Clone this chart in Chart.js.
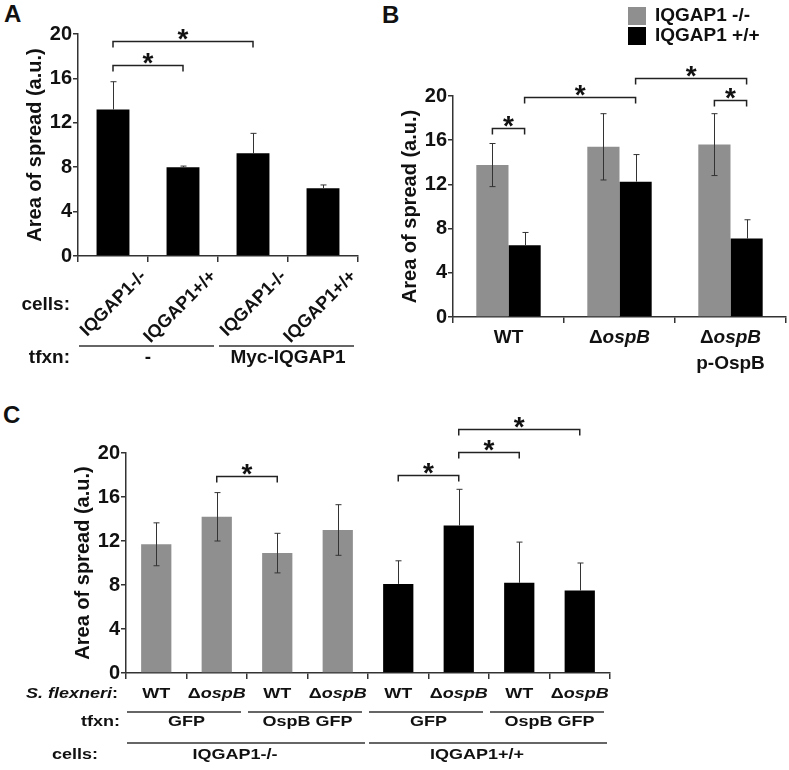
<!DOCTYPE html>
<html>
<head>
<meta charset="utf-8">
<script src="https://cdn.jsdelivr.net/npm/chart.js@4.4.0/dist/chart.umd.min.js"></script>
<style>
body { margin: 0; background: #fff; }
#page { position: relative; width: 789px; height: 770px; overflow: hidden; }
canvas { position: absolute; }
.panel { position: absolute; font: bold 24px 'Liberation Sans', Arial, sans-serif; color: #111; }
</style>
</head>
<body>
<div id="page">
  <div class="panel" style="left:4px;top:0px">A</div>
  <div class="panel" style="left:382px;top:1px">B</div>
  <div class="panel" style="left:3px;top:401px">C</div>
  <canvas id="chartA" width="380" height="390" style="left:0;top:0"></canvas>
  <canvas id="chartB" width="409" height="390" style="left:380px;top:0"></canvas>
  <canvas id="chartC" width="789" height="370" style="left:0;top:400px"></canvas>
</div>
<script>
const fontFamily = "'Liberation Sans', Arial, sans-serif";
const axisColor = '#333';
const textColor = '#111';
const grayColor = '#8f8f8f';
const blackColor = '#000';
const yTitle = 'Area of spread (a.u.)';

// Panel A
const aCells = ['IQGAP1-/-', 'IQGAP1+/+', 'IQGAP1-/-', 'IQGAP1+/+'];
const aTfxn = ['-', 'Myc-IQGAP1'];
const aMeans = [13.2, 8.0, 9.25, 6.1];
const aErrors = [2.5, 0.1, 1.8, 0.3];
const aBrackets = [[0, 1, 17.2], [0, 2, 19.35]];

// Panel B
const bStrains = ['WT', 'ΔospB', 'ΔospB|p-OspB'];
const bSeries = ['IQGAP1 -/-', 'IQGAP1 +/+'];
const bKnockout = [13.75, 15.4, 15.6];
const bKnockoutErr = [1.95, 3.0, 2.8];
const bWild = [6.5, 12.25, 7.1];
const bWildErr = [1.15, 2.45, 1.7];
// [dataset, index] -> [dataset, index], bracket height
const bBrackets = [[0, 0, 1, 0, 17.1], [1, 0, 1, 1, 19.9], [1, 1, 1, 2, 21.6], [0, 2, 1, 2, 19.6]];

// Panel C
const cStrain = ['WT', 'ΔospB', 'WT', 'ΔospB', 'WT', 'ΔospB', 'WT', 'ΔospB'];
const cTfxn = ['GFP', 'OspB GFP', 'GFP', 'OspB GFP'];
const cCells = ['IQGAP1-/-', 'IQGAP1+/+'];
const cMeans = [11.7, 14.2, 10.9, 13.0, 8.1, 13.4, 8.2, 7.5];
const cErrors = [1.95, 2.2, 1.8, 2.3, 2.1, 3.3, 3.7, 2.5];
const cBrackets = [[1, 2, 17.9], [4, 5, 18.0], [5, 6, 20.1], [5, 7, 22.2]];

function fontStr(size, italic) {
    return (italic ? 'italic ' : '') + 'bold ' + size + 'px ' + fontFamily;
}

function parseLabel(s) {
    if (s.startsWith('Δ')) return [['Δ', false], [s.slice(1), true]];
    if (s === 'S. flexneri:') return [['S. flexneri', true], [':', false]];
    return [[s, false]];
}

// draws text made of normal / italic parts, squashed vertically by sy
function drawText(ctx, s, x, y, size, align, sy) {
    const parts = parseLabel(s);
    ctx.save();
    ctx.translate(x, y);
    ctx.scale(1, sy || 1);
    let total = 0;
    const widths = parts.map(p => {
        ctx.font = fontStr(size, p[1]);
        const w = ctx.measureText(p[0]).width;
        total += w;
        return w;
    });
    let cx = align === 'center' ? -total / 2 : (align === 'right' ? -total : 0);
    ctx.textBaseline = 'middle';
    ctx.textAlign = 'left';
    ctx.fillStyle = textColor;
    parts.forEach((p, i) => {
        ctx.font = fontStr(size, p[1]);
        ctx.fillText(p[0], cx, 0);
        cx += widths[i];
    });
    ctx.restore();
}

function hLine(ctx, x0, x1, y) {
    ctx.save();
    ctx.strokeStyle = axisColor;
    ctx.lineWidth = 1.5;
    ctx.beginPath();
    ctx.moveTo(x0, y);
    ctx.lineTo(x1, y);
    ctx.stroke();
    ctx.restore();
}

function drawBracket(chart, a, b, level) {
    const ctx = chart.ctx;
    const y = Math.round(chart.scales.y.getPixelForValue(level)) + 0.5;
    const x0 = chart.getDatasetMeta(a[0]).data[a[1]].x;
    const x1 = chart.getDatasetMeta(b[0]).data[b[1]].x;
    ctx.save();
    ctx.strokeStyle = '#222';
    ctx.lineWidth = 1.5;
    ctx.beginPath();
    ctx.moveTo(x0, y + 6);
    ctx.lineTo(x0, y);
    ctx.lineTo(x1, y);
    ctx.lineTo(x1, y + 6);
    ctx.stroke();
    ctx.font = fontStr(28, false);
    ctx.fillStyle = textColor;
    ctx.textAlign = 'center';
    ctx.textBaseline = 'alphabetic';
    ctx.fillText('*', (x0 + x1) / 2, y - 10 + 0.59 * 28);
    ctx.restore();
}

// error bars: gray bars get both directions, black bars only upward
function drawErrors(chart, dsIndex, errors) {
    const ctx = chart.ctx;
    const ys = chart.scales.y;
    const ds = chart.data.datasets[dsIndex];
    chart.getDatasetMeta(dsIndex).data.forEach((el, i) => {
        const v = ds.data[i];
        const col = Array.isArray(ds.backgroundColor) ? ds.backgroundColor[i] : ds.backgroundColor;
        const top = ys.getPixelForValue(v + errors[i]);
        const bottom = col === grayColor ? ys.getPixelForValue(v - errors[i]) : ys.getPixelForValue(v);
        const x = Math.round(el.x) + 0.5;
        ctx.save();
        ctx.strokeStyle = '#333';
        ctx.lineWidth = 1;
        ctx.beginPath();
        ctx.moveTo(x, top);
        ctx.lineTo(x, bottom);
        ctx.moveTo(x - 3, top);
        ctx.lineTo(x + 3, top);
        if (col === grayColor) {
            ctx.moveTo(x - 3, bottom);
            ctx.lineTo(x + 3, bottom);
        }
        ctx.stroke();
        ctx.restore();
    });
}

function makeOptions(pad, yWidth, titlePad) {
    return {
        responsive: false,
        animation: false,
        devicePixelRatio: 1,
        layout: { padding: pad },
        plugins: { legend: { display: false }, tooltip: { enabled: false } },
        scales: {
            x: {
                grid: { drawOnChartArea: false, tickLength: 6, color: axisColor, lineWidth: 1.5 },
                border: { color: axisColor, width: 1.5 },
                ticks: { display: false },
                afterFit: s => { s.height = 6; }
            },
            y: {
                min: 0, max: 20,
                ticks: { stepSize: 4, font: { size: 20, weight: 'bold', family: fontFamily }, color: textColor, padding: 1 },
                grid: { drawOnChartArea: false, tickLength: 5, color: axisColor, lineWidth: 1.5 },
                border: { color: axisColor, width: 1.5 },
                title: { display: true, text: yTitle, color: textColor, font: { size: 20, weight: 'bold', family: fontFamily }, padding: { top: titlePad, bottom: 0 } },
                afterFit: s => { s.width = yWidth; }
            }
        }
    };
}

// ---------- Panel A ----------
const optsA = makeOptions({ left: 0, right: 22, top: 34, bottom: 128 }, 78, 23);
optsA.datasets = { bar: { barPercentage: 0.47, categoryPercentage: 1 } };
new Chart(document.getElementById('chartA'), {
    type: 'bar',
    data: {
        labels: aCells,
        datasets: [{ data: aMeans, backgroundColor: blackColor, borderWidth: 0 }]
    },
    options: optsA,
    plugins: [{
        id: 'panelA',
        afterDatasetsDraw(chart) {
            drawErrors(chart, 0, aErrors);
        },
        afterDraw(chart) {
            const ctx = chart.ctx;
            const area = chart.chartArea;
            const xs = chart.scales.x;
            const catW = xs.width / aCells.length;
            aBrackets.forEach(b => drawBracket(chart, [0, b[0]], [0, b[1]], b[2]));
            aCells.forEach((lab, i) => {
                const cx = xs.getPixelForValue(i);
                ctx.save();
                ctx.translate(cx + 34, area.bottom + 21);
                ctx.rotate(-Math.PI / 4);
                ctx.font = fontStr(18, false);
                ctx.fillStyle = textColor;
                ctx.textAlign = 'right';
                ctx.textBaseline = 'alphabetic';
                ctx.fillText(lab, 0, 0);
                ctx.restore();
            });
            drawText(ctx, 'cells:', area.left - 8, area.bottom + 49, 19, 'right');
            drawText(ctx, 'tfxn:', area.left - 8, area.bottom + 102, 19, 'right');
            aTfxn.forEach((lab, g) => {
                const l = xs.getPixelForValue(2 * g) - catW / 2;
                const r = xs.getPixelForValue(2 * g + 1) + catW / 2;
                hLine(ctx, l + 1, r - 4, area.bottom + 90);
                drawText(ctx, lab, (l + r) / 2, area.bottom + 102, 19, 'center');
            });
        }
    }]
});

// ---------- Panel B ----------
const optsB = makeOptions({ left: 0, right: 3, top: 96, bottom: 67 }, 73, 18);
optsB.datasets = { bar: { barPercentage: 1, categoryPercentage: 0.58 } };
new Chart(document.getElementById('chartB'), {
    type: 'bar',
    data: {
        labels: bStrains,
        datasets: [
            { label: bSeries[0], data: bKnockout, backgroundColor: grayColor, borderWidth: 0 },
            { label: bSeries[1], data: bWild, backgroundColor: blackColor, borderWidth: 0 }
        ]
    },
    options: optsB,
    plugins: [{
        id: 'panelB',
        afterDatasetsDraw(chart) {
            drawErrors(chart, 0, bKnockoutErr);
            drawErrors(chart, 1, bWildErr);
        },
        afterDraw(chart) {
            const ctx = chart.ctx;
            const area = chart.chartArea;
            const xs = chart.scales.x;
            bBrackets.forEach(b => drawBracket(chart, [b[0], b[1]], [b[2], b[3]], b[4]));
            bStrains.forEach((lab, i) => {
                const cx = xs.getPixelForValue(i);
                lab.split('|').forEach((line, k) => {
                    drawText(ctx, line, cx, area.bottom + 21 + k * 26, 19, 'center');
                });
            });
            // legend
            chart.data.datasets.forEach((ds, k) => {
                ctx.fillStyle = ds.backgroundColor;
                ctx.fillRect(248, 7 + k * 20, 18, 18);
                drawText(ctx, ds.label, 275, 16 + k * 20, 19, 'left');
            });
        }
    }]
});

// ---------- Panel C ----------
const optsC = makeOptions({ left: 0, right: 179, top: 53, bottom: 91 }, 126, 71);
optsC.datasets = { bar: { barPercentage: 0.5, categoryPercentage: 1 } };
new Chart(document.getElementById('chartC'), {
    type: 'bar',
    data: {
        labels: cStrain,
        datasets: [{
            data: cMeans,
            backgroundColor: cMeans.map((v, i) => i < 4 ? grayColor : blackColor),
            borderWidth: 0
        }]
    },
    options: optsC,
    plugins: [{
        id: 'panelC',
        afterDatasetsDraw(chart) {
            drawErrors(chart, 0, cErrors);
        },
        afterDraw(chart) {
            const ctx = chart.ctx;
            const area = chart.chartArea;
            const xs = chart.scales.x;
            const catW = xs.width / cStrain.length;
            const sq = 0.8;
            cBrackets.forEach(b => drawBracket(chart, [0, b[0]], [0, b[1]], b[2]));
            drawText(ctx, 'S. flexneri:', area.left - 8, area.bottom + 21, 18, 'right', sq);
            drawText(ctx, 'tfxn:', area.left - 6, area.bottom + 49, 18, 'right', sq);
            drawText(ctx, 'cells:', area.left - 28, area.bottom + 82, 18, 'right', sq);
            cStrain.forEach((lab, i) => {
                drawText(ctx, lab, xs.getPixelForValue(i), area.bottom + 21, 18, 'center', sq);
            });
            cTfxn.forEach((lab, g) => {
                const l = xs.getPixelForValue(2 * g) - catW / 2;
                const r = xs.getPixelForValue(2 * g + 1) + catW / 2;
                hLine(ctx, l + 1, r - 6, area.bottom + 39);
                drawText(ctx, lab, (l + r) / 2, area.bottom + 49, 18, 'center', sq);
            });
            cCells.forEach((lab, g) => {
                const l = xs.getPixelForValue(4 * g) - catW / 2;
                const r = xs.getPixelForValue(4 * g + 3) + catW / 2;
                hLine(ctx, l + 1, r - 3, area.bottom + 70);
                drawText(ctx, lab, (l + r) / 2 - 12, area.bottom + 82, 18, 'center', sq);
            });
        }
    }]
});
</script>
</body>
</html>
